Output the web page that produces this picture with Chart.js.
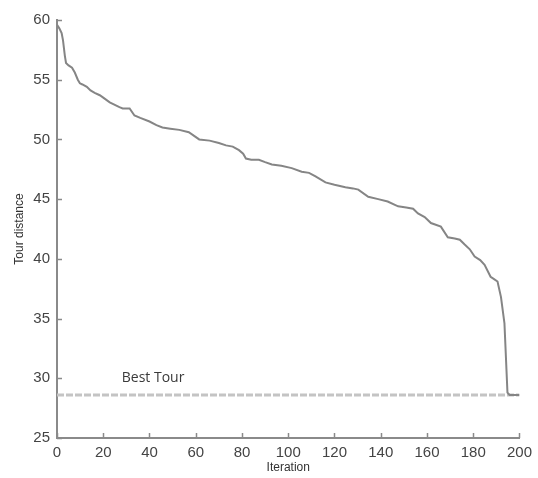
<!DOCTYPE html>
<html>
<head>
<meta charset="utf-8">
<script src="https://cdn.jsdelivr.net/npm/chart.js@4/dist/chart.umd.min.js"></script>
<style>
  html, body { margin: 0; padding: 0; background: #fff; }
  #wrap { width: 538px; height: 478px; }
</style>
</head>
<body>
<div id="wrap"><canvas id="tourChart"></canvas></div>
<script>
// iteration (x) and tour distance (y)
const iterations = [0, 1, 2, 2.6, 3.4, 3.9, 5, 6.5, 7.7, 9,
    9.9, 11, 12.9, 14.5, 16.3, 18.5, 20, 22.8, 25, 27,
    28.4, 31.4, 33.5, 36, 40, 43, 45.6, 49, 52.9, 57,
    61.5, 66, 70, 73.1, 76, 78.7, 80.5, 81.7, 84, 87.3,
    90, 92.9, 97, 101.5, 105.8, 109, 111.8, 116.1, 120, 124.7,
    128, 130.3, 134.6, 138.9, 143, 147.5, 151, 154, 156.1, 159,
    161.7, 166, 169, 172, 174.2, 176.3, 178.5, 180.6, 183, 184.9,
    187.5, 189, 190.5, 192, 193.5, 194.8, 195.7, 200];
const tourDistance = [59.6, 59.3, 58.9, 58.3, 57.0, 56.4, 56.2, 56.0, 55.6, 55.0,
    54.7, 54.6, 54.4, 54.1, 53.9, 53.7, 53.5, 53.1, 52.9, 52.7,
    52.6, 52.6, 52.0, 51.8, 51.5, 51.2, 51.0, 50.9, 50.8, 50.6,
    50.0, 49.9, 49.7, 49.5, 49.4, 49.1, 48.8, 48.4, 48.3, 48.3,
    48.1, 47.9, 47.8, 47.6, 47.3, 47.2, 46.9, 46.4, 46.2, 46.0,
    45.9, 45.8, 45.2, 45.0, 44.8, 44.4, 44.3, 44.2, 43.8, 43.5,
    43.0, 42.7, 41.8, 41.7, 41.6, 41.2, 40.8, 40.2, 39.9, 39.5,
    38.5, 38.3, 38.1, 36.8, 34.6, 28.8, 28.6, 28.6];

const bestTourX = [0, 200];
const bestTourY = [28.6, 28.6];
const bestTourLabel = 'Best Tour';
const bestTourLabelAt = [28, 30]; // data coords of the label

const xTicks = [0, 20, 40, 60, 80, 100, 120, 140, 160, 180, 200];
const yTicks = [25, 30, 35, 40, 45, 50, 55, 60];

const axisColor = '#8a8a8a';
const tickFont = { family: "'Liberation Sans Narrow', 'Liberation Sans', Arial", size: 15 };

// matlab style: tick marks drawn inwards, plus the text annotation
const innerTicks = {
    id: 'innerTicks',
    afterDraw(chart) {
        const { ctx, chartArea, scales } = chart;
        ctx.save();
        ctx.strokeStyle = axisColor;
        ctx.lineWidth = 1.5;
        ctx.beginPath();
        xTicks.forEach(v => {
            const px = Math.round(scales.x.getPixelForValue(v)) + 0.5;
            ctx.moveTo(px, chartArea.bottom);
            ctx.lineTo(px, chartArea.bottom - 5);
        });
        yTicks.forEach(v => {
            const py = Math.round(scales.y.getPixelForValue(v)) + 0.5;
            ctx.moveTo(chartArea.left, py);
            ctx.lineTo(chartArea.left + 5, py);
        });
        ctx.stroke();

        ctx.fillStyle = '#3a3a3a';
        ctx.font = "14px 'Open Sans', 'DejaVu Sans', sans-serif";
        ctx.textBaseline = 'middle';
        ctx.textAlign = 'left';
        ctx.fillText(bestTourLabel,
            scales.x.getPixelForValue(bestTourLabelAt[0]),
            scales.y.getPixelForValue(bestTourLabelAt[1]));
        ctx.restore();
    }
};

new Chart(document.getElementById('tourChart'), {
    type: 'line',
    data: {
        datasets: [{
            label: 'Tour distance',
            data: iterations.map((x, i) => ({ x: x, y: tourDistance[i] })),
            borderColor: '#858585',
            borderWidth: 2,
            pointRadius: 0,
            tension: 0,
            fill: false
        }, {
            label: bestTourLabel,
            data: bestTourX.map((x, i) => ({ x: x, y: bestTourY[i] })),
            borderColor: '#c4c4c4',
            borderWidth: 3,
            borderDash: [7, 2],
            pointRadius: 0,
            fill: false
        }]
    },
    options: {
        responsive: true,
        maintainAspectRatio: false,
        animation: false,
        events: [],
        layout: { padding: { top: 20, right: 16, bottom: 0, left: 0 } },
        plugins: {
            legend: { display: false },
            tooltip: { enabled: false }
        },
        scales: {
            x: {
                type: 'linear',
                min: 0,
                max: 200,
                afterBuildTicks: scale => { scale.ticks = xTicks.map(v => ({ value: v })); },
                afterFit: scale => { scale.height = 40; },
                grid: { drawOnChartArea: false, drawTicks: false },
                border: { color: axisColor, width: 2 },
                ticks: { color: '#444', font: tickFont, padding: 6, maxRotation: 0 },
                title: {
                    display: true,
                    text: 'Iteration',
                    color: '#333',
                    font: { family: "'Liberation Sans', Arial", size: 12 },
                    padding: { top: 0, bottom: 3 }
                }
            },
            y: {
                type: 'linear',
                min: 25,
                max: 60,
                afterBuildTicks: scale => { scale.ticks = yTicks.map(v => ({ value: v })); },
                afterFit: scale => { scale.width = 57; },
                grid: { drawOnChartArea: false, drawTicks: false },
                border: { color: axisColor, width: 2 },
                ticks: { color: '#444', font: tickFont, padding: 7 },
                title: {
                    display: true,
                    text: 'Tour distance',
                    color: '#333',
                    font: { family: "'Liberation Sans', Arial", size: 12 },
                    padding: { top: 12, bottom: 0 }
                }
            }
        }
    },
    plugins: [innerTicks]
});
</script>
</body>
</html>
